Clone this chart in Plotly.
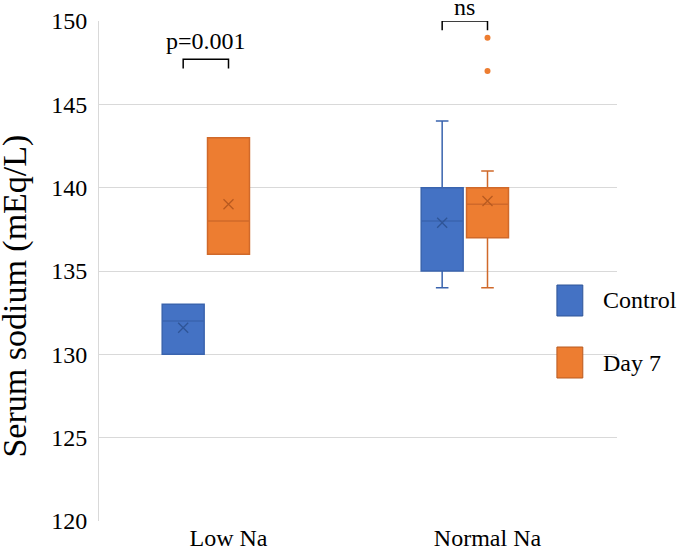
import plotly.graph_objects as go

# Data
groups = ["Low Na", "Normal Na"]
series = ["Control", "Day 7"]

control_min = [130, 134]
control_q1 = [130, 135]
control_median = [132, 138]
control_q3 = [133, 140]
control_max = [133, 144]
control_mean = [131.6, 137.9]

day7_min = [136, 134]
day7_q1 = [136, 137]
day7_median = [138, 139]
day7_q3 = [143, 140]
day7_max = [143, 141]
day7_mean = [139.0, 139.2]

day7_outliers_group = ["Normal Na", "Normal Na"]
day7_outliers = [147, 149]

p_labels = ["p=0.001", "ns"]
bracket_tops = [147.7, 150.0]

# Styles
FONT = "Liberation Serif, Times New Roman, serif"
fills = {"Control": "#4472C4", "Day 7": "#ED7D31"}
lines = {"Control": "#3A64AE", "Day 7": "#D0692A"}
marks = {"Control": "#2F5597", "Day 7": "#B85A20"}
offsets = {"Control": -0.175, "Day 7": 0.0}
label_shift = {"p=0.001": 3, "ns": -1}
BOX_W = 0.162

pos = {g: i for i, g in enumerate(groups)}

fig = go.Figure()

stats = {
    "Control": (control_min, control_q1, control_median, control_q3, control_max, control_mean),
    "Day 7": (day7_min, day7_q1, day7_median, day7_q3, day7_max, day7_mean),
}

for s in series:
    lo, q1, med, q3, hi, mean = stats[s]
    xs = [pos[g] + offsets[s] for g in groups]
    fig.add_trace(go.Box(
        name=s, x=xs, q1=q1, median=med, q3=q3,
        lowerfence=lo, upperfence=hi, width=BOX_W,
        fillcolor=fills[s], line=dict(color=lines[s], width=1.5),
        whiskerwidth=0.3, showlegend=False, hoverinfo="skip",
    ))
    fig.add_trace(go.Scatter(
        x=xs, y=mean, mode="markers", showlegend=False, hoverinfo="skip",
        marker=dict(symbol="x-thin", size=10, line=dict(color=marks[s], width=1.3)),
    ))

# outliers
fig.add_trace(go.Scatter(
    x=[pos[g] + offsets["Day 7"] for g in day7_outliers_group], y=day7_outliers,
    mode="markers", showlegend=False, hoverinfo="skip", cliponaxis=False,
    marker=dict(color=fills["Day 7"], size=6),
))

# significance brackets
for g, lab, top in zip(groups, p_labels, bracket_tops):
    x0 = pos[g] + offsets["Control"]
    x1 = pos[g] + offsets["Day 7"]
    fig.add_shape(type="path", xref="x", yref="y",
                  path=f"M {x0},{top - 0.55} L {x0},{top} L {x1},{top} L {x1},{top - 0.55}",
                  line=dict(color="black", width=1.5))
    fig.add_annotation(x=(x0 + x1) / 2, y=top, xref="x", yref="y", text=lab,
                       showarrow=False, yanchor="bottom", yshift=label_shift[lab],
                       font=dict(family=FONT, size=24, color="black"))

# manual legend (large squares)
leg_y = [0.441, 0.317]
for s, yc in zip(series, leg_y):
    fig.add_shape(type="rect", xref="paper", yref="paper",
                  x0=0.884, x1=0.934, y0=yc - 0.031, y1=yc + 0.031,
                  fillcolor=fills[s], line=dict(color=marks[s], width=1))
    fig.add_annotation(x=0.97, y=yc, xref="paper", yref="paper", text=s,
                       showarrow=False, xanchor="left", yanchor="middle",
                       font=dict(family=FONT, size=24, color="black"))

# y-axis title sits a bit below the plot centre, as in the original
fig.add_annotation(x=-0.163, y=0.45, xref="paper", yref="paper",
                   text="Serum sodium (mEq/L)", textangle=-90, showarrow=False,
                   xanchor="center", yanchor="middle",
                   font=dict(family=FONT, size=34, color="black"))

fig.update_layout(
    width=685, height=556,
    margin=dict(l=99, r=68, t=21, b=35),
    paper_bgcolor="white", plot_bgcolor="white",
    font=dict(family=FONT, size=24, color="black"),
    showlegend=False,
)
fig.update_xaxes(
    range=[-0.5, 1.5], tickmode="array", tickvals=list(range(len(groups))),
    ticktext=groups, showgrid=False, zeroline=False, ticks="",
    tickfont=dict(size=24), showline=False, automargin=False,
)
fig.update_yaxes(
    range=[120, 150], dtick=5, showgrid=True, gridcolor="#D9D9D9", gridwidth=1,
    zeroline=False, showline=True, linecolor="#D9D9D9", linewidth=1,
    ticks="", ticklabelstandoff=6, tickfont=dict(size=24), automargin=False,
)

# drop the browser's default body margin so the figure fills the window
fig.write_html("out.html", config={"displayModeBar": False},
               post_script="document.body.style.margin='0';")
